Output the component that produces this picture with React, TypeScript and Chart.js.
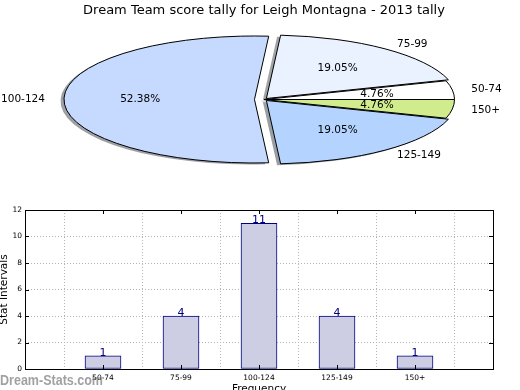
import React, { useEffect, useRef } from 'react';
import { Chart, registerables } from 'chart.js';

Chart.register(...registerables);

const TITLE = 'Dream Team score tally for Leigh Montagna - 2013 tally';
const categories = ['50-74', '75-99', '100-124', '125-149', '150+'];
const counts = [1, 4, 11, 4, 1];
const sliceColors = ['#ffffff', '#eaf1ff', '#c6d9ff', '#b4d4ff', '#d0ec8c'];
const explode = [0, 0.02, 0.05, 0.02, 0];
const yAxisTitle = 'Stat Intervals';
const xAxisTitle = 'Frequency';
const watermark = 'Dream-Stats.com';

// Chart.js lays slices out clockwise; reverse so the picture matches the counter-clockwise original
const pieLabels = [...categories].reverse();
const pieValues = [...counts].reverse();
const pieColors = [...sliceColors].reverse();
const pieExplode = [...explode].reverse();

const FONT = "'DejaVu Sans', 'Bitstream Vera Sans', sans-serif";
const PIE_R = 63.5;
const STRETCH = 3;

function shadowOf(hex: string) {
  const n = parseInt(hex.slice(1), 16);
  const r = ((n >> 16) & 255) * 0.3;
  const g = ((n >> 8) & 255) * 0.3;
  const b = (n & 255) * 0.3;
  return `rgba(${r | 0},${g | 0},${b | 0},0.5)`;
}

function geom(el: any) {
  const p = el.getProps(['x', 'y', 'startAngle', 'endAngle', 'outerRadius'], true);
  const off = (el.options && el.options.offset) || 0;
  const mid = (p.startAngle + p.endAngle) / 2;
  return { ...p, off, mid, ox: Math.cos(mid) * off, oy: Math.sin(mid) * off };
}

function slicePath(ctx: CanvasRenderingContext2D, el: any, dx: number, dy: number) {
  const g = geom(el);
  ctx.save();
  ctx.translate(g.x + dx, g.y + dy);
  ctx.scale(STRETCH, 1);
  ctx.beginPath();
  ctx.moveTo(g.ox, g.oy);
  ctx.arc(g.ox, g.oy, g.outerRadius, g.startAngle, g.endAngle);
  ctx.closePath();
  ctx.restore();
}

const ellipsePie = {
  id: 'ellipsePie',
  beforeDatasetDraw(chart: any, args: any) {
    const ctx: CanvasRenderingContext2D = chart.ctx;
    const arcs = args.meta.data;
    ctx.save();
    arcs.forEach((el: any, i: number) => {
      slicePath(ctx, el, -3.5, 1.5);
      ctx.fillStyle = shadowOf(pieColors[i]);
      ctx.fill();
    });
    arcs.forEach((el: any, i: number) => {
      slicePath(ctx, el, 0, 0);
      ctx.fillStyle = pieColors[i];
      ctx.fill();
      ctx.lineWidth = 1;
      ctx.lineJoin = 'miter';
      ctx.strokeStyle = '#000';
      ctx.stroke();
    });
    ctx.restore();
    return false;
  },
  afterDatasetsDraw(chart: any) {
    const ctx: CanvasRenderingContext2D = chart.ctx;
    const meta = chart.getDatasetMeta(0);
    const total = pieValues.reduce((a, b) => a + b, 0);
    ctx.save();
    ctx.fillStyle = '#000';
    ctx.font = `10.5px ${FONT}`;
    ctx.textBaseline = 'middle';
    meta.data.forEach((el: any, i: number) => {
      const g = geom(el);
      const cx = g.x + STRETCH * g.ox;
      const cy = g.y + g.oy;
      const c = Math.cos(g.mid);
      const s = Math.sin(g.mid);
      ctx.textAlign = 'center';
      ctx.fillText(((pieValues[i] / total) * 100).toFixed(2) + '%',
        cx + STRETCH * g.outerRadius * 0.6 * c, cy + g.outerRadius * 0.6 * s);
      ctx.textAlign = c < 0 ? 'right' : 'left';
      ctx.fillText(chart.data.labels[i], cx + STRETCH * g.outerRadius * 1.1 * c, cy + g.outerRadius * 1.1 * s);
    });
    ctx.restore();
  },
};

const barExtras = {
  id: 'barExtras',
  afterDraw(chart: any) {
    const ctx: CanvasRenderingContext2D = chart.ctx;
    const { left, right, top, bottom } = chart.chartArea;
    const xs = chart.scales.x;
    const ys = chart.scales.y;
    ctx.save();
    // inward tick marks
    ctx.strokeStyle = '#000';
    ctx.lineWidth = 1;
    ctx.beginPath();
    ys.ticks.forEach((t: any) => {
      const y = Math.round(ys.getPixelForValue(t.value)) + 0.5;
      ctx.moveTo(left, y); ctx.lineTo(left + 4, y);
      ctx.moveTo(right, y); ctx.lineTo(right - 4, y);
    });
    categories.forEach((_, i) => {
      const x = Math.round(xs.getPixelForValue(i)) + 0.5;
      ctx.moveTo(x, bottom); ctx.lineTo(x, bottom - 4);
      ctx.moveTo(x, top); ctx.lineTo(x, top + 4);
    });
    ctx.stroke();
    // frame
    ctx.strokeRect(Math.round(left) + 0.5, Math.round(top) + 0.5, Math.round(right - left), Math.round(bottom - top));
    // value labels
    const meta = chart.getDatasetMeta(0);
    ctx.fillStyle = '#000080';
    ctx.font = `11px ${FONT}`;
    ctx.textAlign = 'center';
    ctx.textBaseline = 'alphabetic';
    meta.data.forEach((bar: any, i: number) => {
      ctx.fillText(String(counts[i]), bar.x, bar.y);
    });
    // watermark
    ctx.fillStyle = 'rgba(110,110,110,0.65)';
    ctx.font = "bold 14px 'Liberation Sans', Arial, sans-serif";
    ctx.textAlign = 'left';
    const w = ctx.measureText(watermark).width || 1;
    ctx.translate(0, 185);
    ctx.scale(103 / w, 1);
    ctx.fillText(watermark, 0, 0);
    ctx.restore();
  },
};

export default function App() {
  const pieRef = useRef<HTMLCanvasElement>(null);
  const barRef = useRef<HTMLCanvasElement>(null);

  useEffect(() => {
    const pie = new Chart(pieRef.current as HTMLCanvasElement, {
      type: 'pie',
      data: {
        labels: pieLabels,
        datasets: [{
          data: pieValues,
          backgroundColor: pieColors,
          borderColor: '#000',
          borderWidth: 1,
          offset: pieExplode.map((e) => e * PIE_R),
        }],
      },
      options: {
        animation: false,
        responsive: false,
        rotation: 90,
        radius: PIE_R,
        layout: { padding: { top: 0, bottom: 19.6, left: 8, right: 0 } },
        plugins: {
          legend: { display: false },
          tooltip: { enabled: false },
          title: {
            display: true,
            text: TITLE,
            color: '#000',
            font: { family: FONT, size: 13, weight: 'normal' },
            padding: { top: 3, bottom: 0 },
          },
        },
      } as any,
      plugins: [ellipsePie],
    });

    const bar = new Chart(barRef.current as HTMLCanvasElement, {
      type: 'bar',
      data: {
        datasets: [{
          data: counts.map((v, i) => ({ x: i, y: v })),
          backgroundColor: '#cdcde4',
          borderColor: '#000080',
          borderWidth: 1,
          borderSkipped: false,
          barThickness: 36,
        }],
      },
      options: {
        animation: false,
        responsive: false,
        layout: { padding: { top: 10, right: 27, left: 0, bottom: 0 } },
        plugins: { legend: { display: false }, tooltip: { enabled: false } },
        scales: {
          x: {
            type: 'linear',
            min: -1,
            max: 5,
            z: 1,
            offset: false,
            ticks: {
              stepSize: 1,
              autoSkip: false,
              maxRotation: 0,
              padding: 5,
              color: '#000',
              font: { family: FONT, size: 7.5 },
              callback: (v: any) => categories[v] ?? '',
            },
            grid: { color: '#b4b4b4', lineWidth: 1, drawTicks: false },
            border: { display: false, dash: [1, 2] },
            title: {
              display: true,
              text: xAxisTitle,
              color: '#000',
              font: { family: FONT, size: 10.5 },
              padding: { top: 0, bottom: 4 },
            },
            afterFit: (s: any) => { s.height = 31; },
          },
          y: {
            min: 0,
            max: 12,
            z: 1,
            ticks: {
              stepSize: 2,
              padding: 3,
              color: '#000',
              font: { family: FONT, size: 7.5 },
            },
            grid: { color: '#b4b4b4', lineWidth: 1, drawTicks: false },
            border: { display: false, dash: [1, 2] },
            title: {
              display: true,
              text: yAxisTitle,
              color: '#000',
              font: { family: FONT, size: 10.5 },
              padding: { top: -2, bottom: 0 },
            },
            afterFit: (s: any) => { s.width = 25; },
          },
        },
      } as any,
      plugins: [barExtras],
    });

    return () => {
      pie.destroy();
      bar.destroy();
    };
  }, []);

  return (
    <div style={{ position: 'fixed', left: 0, top: 0, width: 520, height: 390, overflow: 'hidden', background: '#fff' }}>
      <canvas ref={pieRef} width={520} height={200} style={{ position: 'absolute', left: 0, top: 0 }} />
      <canvas ref={barRef} width={520} height={200} style={{ position: 'absolute', left: 0, top: 200 }} />
    </div>
  );
}
